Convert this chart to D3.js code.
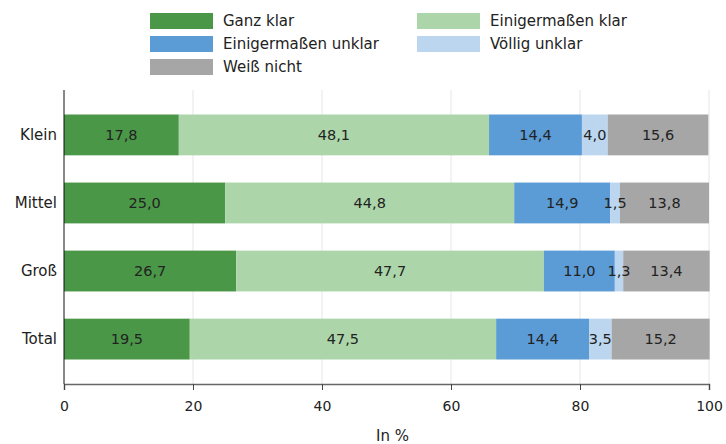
<!DOCTYPE html>
<html>
<head>
<meta charset="utf-8">
<script src="https://cdn.jsdelivr.net/npm/d3@7"></script>
<style>
  body { margin: 0; background: #fff; }
  svg text { font-family: "DejaVu Sans", sans-serif; fill: #222; }
</style>
</head>
<body>
<svg id="chart" width="726" height="444"></svg>
<script>
// Categories (firm size) and answer groups
const categories = ["Klein", "Mittel", "Groß", "Total"];
const seriesNames = ["Ganz klar", "Einigermaßen klar", "Einigermaßen unklar", "Völlig unklar", "Weiß nicht"];
const seriesColors = ["#4b9748", "#acd6a9", "#5b9bd6", "#bcd6ef", "#a6a6a6"];

// Shares in percent per series, in category order
const ganzKlar = [17.8, 25.0, 26.7, 19.5];
const einigermassenKlar = [48.1, 44.8, 47.7, 47.5];
const einigermassenUnklar = [14.4, 14.9, 11.0, 14.4];
const voelligUnklar = [4.0, 1.5, 1.3, 3.5];
const weissNicht = [15.6, 13.8, 13.4, 15.2];

const xTicks = [0, 20, 40, 60, 80, 100];
const xTitle = "In %";

const seriesValues = [ganzKlar, einigermassenKlar, einigermassenUnklar, voelligUnklar, weissNicht];
const rows = categories.map((c, i) => {
  const r = { cat: c };
  seriesNames.forEach((s, j) => r[s] = seriesValues[j][i]);
  return r;
});
const stacked = d3.stack().keys(seriesNames)(rows);

const svg = d3.select("#chart");
const plotLeft = 64, plotRight = 709, plotTop = 90, plotBottom = 384;

const x = d3.scaleLinear().domain([0, 100]).range([plotLeft, plotRight]);
const y = d3.scaleBand().domain(categories).range([plotTop, plotBottom]).paddingInner(0.4).paddingOuter(0.36);

// vertical gridlines
svg.append("g").selectAll("line").data(xTicks.filter(t => t > 0)).join("line")
  .attr("x1", d => x(d)).attr("x2", d => x(d))
  .attr("y1", plotTop).attr("y2", plotBottom)
  .attr("stroke", "#e6e6e6").attr("stroke-width", 1);

// bars
const layers = svg.append("g").selectAll("g").data(stacked).join("g")
  .attr("fill", (d, i) => seriesColors[i]);
layers.selectAll("rect").data(d => d).join("rect")
  .attr("x", d => x(d[0]))
  .attr("width", d => x(d[1]) - x(d[0]))
  .attr("y", d => y(d.data.cat))
  .attr("height", y.bandwidth());

// value labels
const fmt = v => v.toFixed(1).replace(".", ",");
stacked.forEach((layer, i) => {
  svg.append("g").selectAll("text").data(layer).join("text")
    .attr("x", d => (x(d[0]) + x(d[1])) / 2)
    .attr("y", d => y(d.data.cat) + y.bandwidth() / 2)
    .attr("dy", "0.36em")
    .attr("text-anchor", "middle")
    .style("font-size", "14.5px")
    .text(d => fmt(d.data[layer.key]));
});

// x axis
const xAxis = svg.append("g").attr("transform", `translate(0,${plotBottom})`)
  .call(d3.axisBottom(x).tickValues(xTicks).tickSize(6).tickPadding(11).tickFormat(d3.format("d")));
xAxis.select(".domain").attr("stroke", "#666").attr("stroke-width", 1.5);
xAxis.selectAll(".tick line").attr("stroke", "#444");
xAxis.selectAll("text").style("font-size", "14px").attr("fill", "#222");

// y axis
const yAxis = svg.append("g").attr("transform", `translate(${plotLeft},0)`)
  .call(d3.axisLeft(y).tickSize(0).tickPadding(7));
yAxis.select(".domain").attr("d", `M0,${plotTop}V${plotBottom}`).attr("stroke", "#111");
yAxis.selectAll("text").style("font-size", "15px").attr("fill", "#222");

svg.append("text").attr("x", (plotLeft + plotRight) / 2 + 6).attr("y", 441)
  .attr("text-anchor", "middle").style("font-size", "15px").text(xTitle);

// legend
const legendPos = [[150, 13], [417, 13], [150, 36], [417, 36], [150, 59]];
const lg = svg.append("g").selectAll("g").data(seriesNames).join("g")
  .attr("transform", (d, i) => `translate(${legendPos[i][0]},${legendPos[i][1]})`);
lg.append("rect").attr("width", 63).attr("height", 16).attr("fill", (d, i) => seriesColors[i]);
lg.append("text").attr("x", 73).attr("y", 8).attr("dy", "0.36em")
  .style("font-size", "15px").text(d => d);
</script>
</body>
</html>
